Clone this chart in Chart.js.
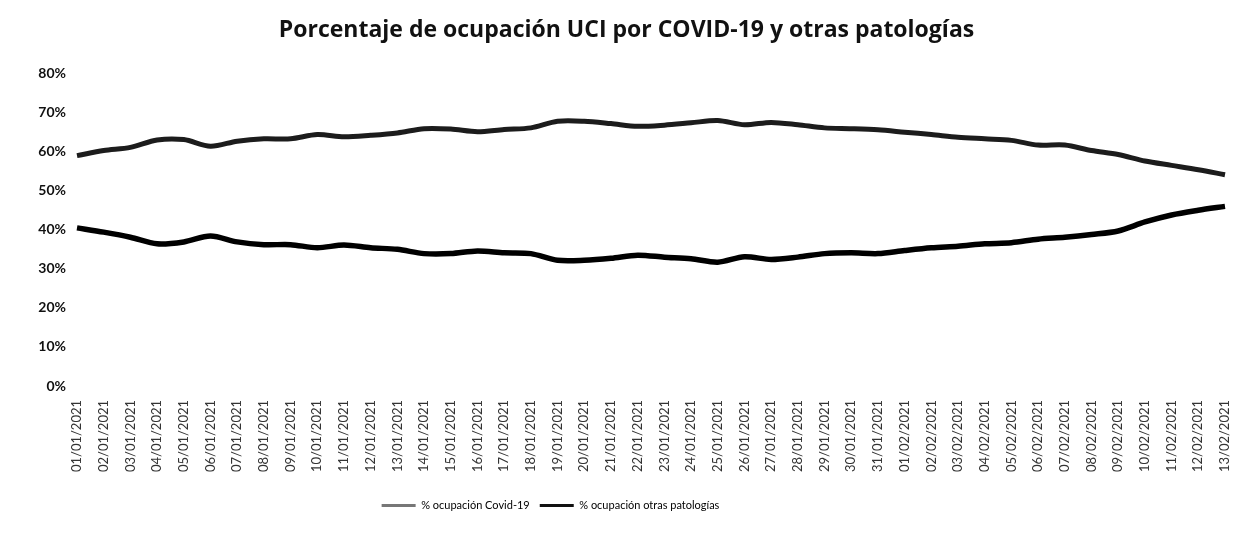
<!DOCTYPE html>
<html>
<head>
<meta charset="utf-8">
<script src="https://cdn.jsdelivr.net/npm/chart.js@4/dist/chart.umd.min.js"></script>
<style>
  html, body { margin: 0; padding: 0; background: #fff; }
  #wrap { width: 1233px; height: 542px; }
</style>
</head>
<body>
<div id="wrap"><canvas id="grafica" width="1233" height="542"></canvas></div>
<script>
// Fechas del eje X
const fechas = [
  '01/01/2021', '02/01/2021', '03/01/2021', '04/01/2021', '05/01/2021', '06/01/2021',
  '07/01/2021', '08/01/2021', '09/01/2021', '10/01/2021', '11/01/2021', '12/01/2021',
  '13/01/2021', '14/01/2021', '15/01/2021', '16/01/2021', '17/01/2021', '18/01/2021',
  '19/01/2021', '20/01/2021', '21/01/2021', '22/01/2021', '23/01/2021', '24/01/2021',
  '25/01/2021', '26/01/2021', '27/01/2021', '28/01/2021', '29/01/2021', '30/01/2021',
  '31/01/2021', '01/02/2021', '02/02/2021', '03/02/2021', '04/02/2021', '05/02/2021',
  '06/02/2021', '07/02/2021', '08/02/2021', '09/02/2021', '10/02/2021', '11/02/2021',
  '12/02/2021', '13/02/2021'
];

// % ocupación UCI por Covid-19
const ocupacionCovid = [
  59.0, 60.3, 61.1, 63.0, 63.1, 61.4, 62.7, 63.3, 63.3, 64.4, 63.8, 64.2,
  64.8, 65.9, 65.8, 65.1, 65.7, 66.1, 67.8, 67.8, 67.2, 66.5, 66.8, 67.4,
  68.0, 66.9, 67.5, 66.9, 66.1, 65.9, 65.6, 65.0, 64.4, 63.7, 63.3, 62.9,
  61.7, 61.7, 60.3, 59.3, 57.6, 56.5, 55.4, 54.1
];

// % ocupación UCI por otras patologías
const ocupacionOtras = [
  40.5, 39.4, 38.1, 36.4, 36.9, 38.4, 36.9, 36.2, 36.2, 35.4, 36.1, 35.4,
  35.0, 33.9, 33.9, 34.6, 34.1, 33.9, 32.2, 32.2, 32.7, 33.5, 33.0, 32.6,
  31.7, 33.1, 32.4, 33.0, 33.9, 34.1, 33.9, 34.7, 35.4, 35.8, 36.4, 36.7,
  37.6, 38.1, 38.8, 39.7, 42.0, 43.8, 45.0, 46.0
];

// Ticks del eje Y
const ticksY = [0, 10, 20, 30, 40, 50, 60, 70, 80];

const fuente = "Lato, 'Open Sans', 'Liberation Sans', sans-serif";

// En el original la leyenda está corrida a la izquierda y el título un poco a la derecha
const ajustarCajas = {
  id: 'ajustarCajas',
  afterLayout: function (chart) {
    chart.legend.left -= 62;
    chart.legend.right -= 62;
    chart.titleBlock.left += 14;
    chart.titleBlock.right += 14;
  }
};

new Chart(document.getElementById('grafica'), {
  type: 'line',
  data: {
    labels: fechas,
    datasets: [{
      label: '% ocupación Covid-19',
      data: ocupacionCovid,
      borderColor: '#1c1c1c',
      borderWidth: 5,
      pointRadius: 0,
      tension: 0.3,
      fill: false
    }, {
      label: '% ocupación otras patologías',
      data: ocupacionOtras,
      borderColor: '#000000',
      borderWidth: 5.5,
      pointRadius: 0,
      tension: 0.3,
      fill: false
    }]
  },
  plugins: [ajustarCajas],
  options: {
    responsive: false,
    animation: false,
    layout: { padding: { left: 0, right: 8, top: 0, bottom: 21 } },
    plugins: {
      title: {
        display: true,
        text: 'Porcentaje de ocupación UCI por COVID-19 y otras patologías',
        color: '#111',
        font: { family: "'Open Sans', Lato, sans-serif", size: 23, weight: 'bold' },
        padding: { top: 17, bottom: 29 }
      },
      legend: {
        position: 'bottom',
        labels: {
          color: '#444',
          font: { family: fuente, size: 11 },
          boxWidth: 34,
          boxHeight: 3,
          padding: 10,
          generateLabels: function (chart) {
            const colores = ['#777777', '#111111'];
            return chart.data.datasets.map(function (ds, i) {
              return {
                text: ds.label,
                fillStyle: colores[i],
                strokeStyle: colores[i],
                lineWidth: 0,
                datasetIndex: i
              };
            });
          }
        }
      },
      tooltip: { enabled: false }
    },
    scales: {
      x: {
        offset: false,
        grid: { display: false },
        border: { display: false },
        afterFit: function (scale) {
          scale.height = 104;
          scale.paddingRight = 0;
          scale.paddingLeft = 0;
        },
        ticks: {
          color: '#333',
          font: { family: fuente, size: 13 },
          minRotation: 90,
          maxRotation: 90,
          autoSkip: false,
          padding: 6
        }
      },
      y: {
        min: 0,
        max: 80,
        grid: { display: false },
        border: { display: false },
        afterBuildTicks: function (scale) {
          scale.ticks = ticksY.map(function (v) { return { value: v }; });
        },
        afterFit: function (scale) { scale.width = 77; },
        ticks: {
          color: '#111',
          font: { family: fuente, size: 14, weight: 'bold' },
          padding: 3,
          callback: function (v) { return v + '%'; }
        }
      }
    }
  }
});
</script>
</body>
</html>
